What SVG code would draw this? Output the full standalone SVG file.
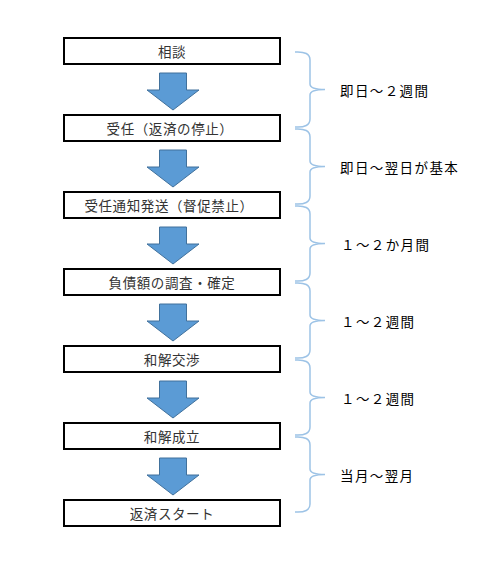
<svg xmlns="http://www.w3.org/2000/svg" width="480" height="564" viewBox="0 0 480 564">
<style>
.box rect{fill:#fff;stroke:#000;stroke-width:2}
.box text{font-family:"Noto Sans CJK JP","Liberation Sans",sans-serif;font-size:13.5px;letter-spacing:0.6px;fill:#333;text-anchor:middle;dominant-baseline:central}
.arrow{fill:#5B9BD5;stroke:#41719C;stroke-width:1}
.brace{fill:none;stroke:#9DC3E6;stroke-width:1.5}
.lbl{font-family:"Noto Sans CJK JP","Liberation Sans",sans-serif;font-size:13.5px;letter-spacing:1.4px;fill:#000;dominant-baseline:central}
</style>
<rect width="480" height="564" fill="#fff"/>
<g id="connectors">
<polygon class="arrow" points="159.5,73 186.5,73 186.5,90 199,90 173,110 147,90 159.5,90"/>
<polygon class="arrow" points="159.5,150 186.5,150 186.5,167 199,167 173,187 147,167 159.5,167"/>
<polygon class="arrow" points="159.5,227 186.5,227 186.5,244 199,244 173,264 147,244 159.5,244"/>
<polygon class="arrow" points="159.5,304 186.5,304 186.5,321 199,321 173,341 147,321 159.5,321"/>
<polygon class="arrow" points="159.5,381 186.5,381 186.5,398 199,398 173,418 147,398 159.5,398"/>
<polygon class="arrow" points="159.5,458 186.5,458 186.5,475 199,475 173,495 147,475 159.5,475"/>
<path class="brace" d="M295,52 Q310,51 310,60 L310,84 Q310,89.5 325,89.5 Q310,89.5 310,95 L310,119 Q310,128 295,127"/>
<path class="brace" d="M295,129 Q310,128 310,137 L310,161 Q310,166.5 325,166.5 Q310,166.5 310,172 L310,196 Q310,205 295,204"/>
<path class="brace" d="M295,206 Q310,205 310,214 L310,238 Q310,243.5 325,243.5 Q310,243.5 310,249 L310,273 Q310,282 295,281"/>
<path class="brace" d="M295,283 Q310,282 310,291 L310,315 Q310,320.5 325,320.5 Q310,320.5 310,326 L310,350 Q310,359 295,358"/>
<path class="brace" d="M295,360 Q310,359 310,368 L310,392 Q310,397.5 325,397.5 Q310,397.5 310,403 L310,427 Q310,436 295,435"/>
<path class="brace" d="M295,437 Q310,436 310,445 L310,469 Q310,474.5 325,474.5 Q310,474.5 310,480 L310,504 Q310,513 295,512"/>
</g>
<g id="n1" class="box"><rect x="64" y="38" width="216" height="26"/><text x="172" y="51">相談</text></g>
<g id="n2" class="box"><rect x="64" y="115" width="216" height="26"/><text x="170" y="128">受任（返済の停止）</text></g>
<g id="n3" class="box"><rect x="64" y="192" width="216" height="26"/><text x="169" y="205">受任通知発送（督促禁止）</text></g>
<g id="n4" class="box"><rect x="64" y="269" width="216" height="26"/><text x="172" y="282">負債額の調査・確定</text></g>
<g id="n5" class="box"><rect x="64" y="346" width="216" height="26"/><text x="172" y="359">和解交渉</text></g>
<g id="n6" class="box"><rect x="64" y="423" width="216" height="26"/><text x="172" y="436">和解成立</text></g>
<g id="n7" class="box"><rect x="64" y="500" width="216" height="26"/><text x="172" y="513">返済スタート</text></g>
<g id="labels">
<text class="lbl" x="340" y="90">即日～２週間</text>
<text class="lbl" x="340" y="167">即日～翌日が基本</text>
<text class="lbl" x="341" y="244">１～２か月間</text>
<text class="lbl" x="341" y="321">１～２週間</text>
<text class="lbl" x="341" y="398">１～２週間</text>
<text class="lbl" x="340" y="475">当月～翌月</text>
</g>
</svg>
